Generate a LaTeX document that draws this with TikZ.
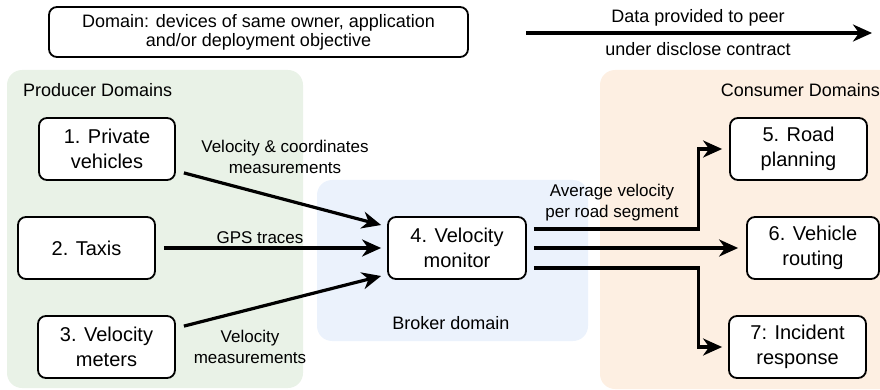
\documentclass[tikz,border=0pt]{standalone}
\usepackage{fontspec}
\setmainfont{Liberation Sans}
\usetikzlibrary{arrows.meta,calc}

\definecolor{producerfill}{RGB}{233,242,231}
\definecolor{brokerfill}{RGB}{235,242,252}
\definecolor{consumerfill}{RGB}{253,239,226}

\tikzset{
  device/.style={draw=black,line width=1.8pt,rounded corners=8pt,fill=white,
    minimum width=137pt,minimum height=62pt,align=center,inner sep=2pt,
    font=\fontsize{20}{25}\selectfont},
  flow/.style={line width=3.2pt,-{Stealth[length=19pt,width=17pt,inset=6pt]}},
  flowlabel/.style={align=center,inner sep=0pt,font=\fontsize{17}{21}\selectfont},
  domainlabel/.style={inner sep=0pt,font=\fontsize{18}{21}\selectfont},
}

\begin{document}
\begin{tikzpicture}[x=1pt,y=-1pt]
\useasboundingbox (0,0) rectangle (880,390);
%% domains
\fill[producerfill,rounded corners=15pt] (7,70) rectangle (303,388);
\fill[brokerfill,rounded corners=15pt] (317,180) rectangle (588,341);
\fill[consumerfill,rounded corners=15pt] (600,70) rectangle (900,389);
\node (producer_label) at (23,90) [domainlabel,anchor=west] {Producer Domains};
\node (consumer_label) at (880,90) [domainlabel,anchor=east] {Consumer Domains};
\node (broker_label) at (451,323) [domainlabel] {Broker domain};
%% legend
\node (legend_box) at (258.5,32) [draw=black,line width=1.8pt,rounded corners=8pt,
  minimum width=419pt,minimum height=50pt,align=center,inner sep=0pt,
  font=\fontsize{18}{19}\selectfont]
  {Domain: devices of same owner, application\\and/or deployment objective};
\coordinate (legend_start) at (526,33);
\coordinate (legend_end) at (872,33);
\draw [flow] (legend_start) -- (legend_end);
\node (legend_top) at (698,18) [domainlabel] {Data provided to peer};
\node (legend_bottom) at (698,49) [domainlabel] {under disclose contract};
%% devices
\node (node_1) at (107,149) [device,minimum width=136pt] {1. Private\\vehicles};
\node (node_2) at (86.5,248) [device] {2. Taxis};
\node (node_3) at (106.5,347) [device] {3. Velocity\\meters};
\node (node_4) at (457,248) [device,minimum width=138pt] {4. Velocity\\monitor};
\node (node_5) at (798.5,149) [device] {5. Road\\planning};
\node (node_6) at (813,248) [device,minimum width=132pt] {6. Vehicle\\routing};
\node (node_7) at (797.5,347) [device] {7: Incident\\response};
%% flows
\draw [flow] ([xshift=8pt,yshift=8pt]node_1.south east) -- ([xshift=-6pt,yshift=23pt]node_4.west);
\draw [flow] ([xshift=8pt]node_2.east) -- ([xshift=-6pt]node_4.west);
\draw [flow] ([xshift=8pt,yshift=-11pt]node_3.north east) -- ([xshift=-6pt,yshift=-28pt]node_4.west);
\draw [flow] ([xshift=7pt,yshift=19pt]node_4.east) -| ([xshift=-31pt]node_5.west) -- ([xshift=-7pt]node_5.west);
\draw [flow] ([xshift=7pt]node_4.east) -- ([xshift=-8pt]node_6.west);
\draw [flow] ([xshift=7pt,yshift=-20pt]node_4.east) -| ([xshift=-30pt]node_7.west) -- ([xshift=-6pt]node_7.west);
%% flow labels
\node (label_1) at (285,157) [flowlabel] {Velocity \& coordinates\\measurements};
\node (label_2) at (260,238) [flowlabel] {GPS traces};
\node (label_3) at (250,347) [flowlabel] {Velocity\\measurements};
\node (label_4) at (612,203) [flowlabel] {Average velocity\\per road segment};
%
\end{tikzpicture}
\end{document}
